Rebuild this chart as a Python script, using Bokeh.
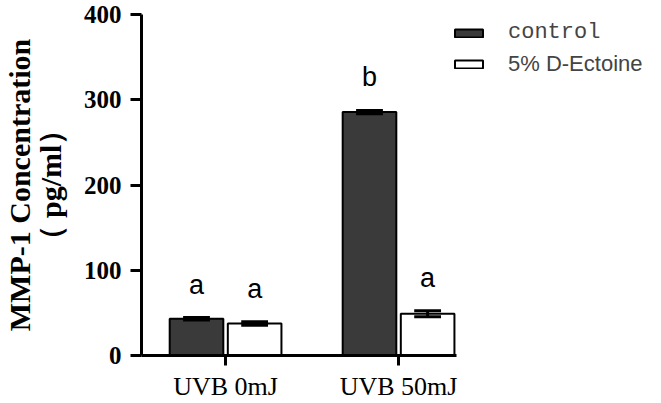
from bokeh.plotting import figure
from bokeh.models import Range1d, FixedTicker, Legend, LegendItem, ColumnDataSource
from bokeh.transform import dodge
from bokeh.core.properties import value
from bokeh.embed import file_html
from bokeh.resources import INLINE

groups = ["UVB 0mJ", "UVB 50mJ"]
series = ["control", "5% D-Ectoine"]
control_mean = [43.0, 285.5]
control_err = [1.5, 2.0]
ectoine_mean = [37.5, 49.0]
ectoine_err = [2.0, 3.5]
control_letters = ["a", "b"]
ectoine_letters = ["a", "a"]
y_ticks = [0, 100, 200, 300, 400]

xpos = [i + 1 for i in range(len(groups))]
OFF = 0.168
BW = 0.31
CAP = BW / 4

def src(means, errs, letters):
    return ColumnDataSource(dict(
        x=xpos, top=means,
        lo=[m - e for m, e in zip(means, errs)],
        hi=[m + e for m, e in zip(means, errs)],
        letter=letters,
    ))

sc = src(control_mean, control_err, control_letters)
se = src(ectoine_mean, ectoine_err, ectoine_letters)

p = figure(width=661, height=403, output_backend="svg", toolbar_location=None,
           x_range=Range1d(0.514, 3.52), y_range=Range1d(0, 400),
           min_border_left=141, min_border_right=0, min_border_top=14,
           min_border_bottom=48)
p.outline_line_color = None
p.grid.visible = False
p.background_fill_color = "white"
p.border_fill_color = "white"

rc = p.vbar(x=dodge("x", -OFF), top="top", width=BW, source=sc,
            fill_color="#3a3a3a", line_color="black", line_width=2)
re_ = p.vbar(x=dodge("x", OFF), top="top", width=BW, source=se,
             fill_color="white", line_color="black", line_width=2)

for s, o in ((sc, -OFF), (se, OFF)):
    p.segment(x0=dodge("x", o), x1=dodge("x", o), y0="lo", y1="hi", source=s,
              line_color="black", line_width=3)
    for yk in ("lo", "hi"):
        p.segment(x0=dodge("x", o - CAP), x1=dodge("x", o + CAP), y0=yk, y1=yk,
                  source=s, line_color="black", line_width=3)
    p.text(x=dodge("x", o), y="hi", text="letter", source=s,
           text_align="center", text_baseline="alphabetic", y_offset=-33,
           text_font=value("Liberation Sans"), text_font_size="27px",
           text_color="black")

# x axis
xa = p.xaxis[0]
xa.ticker = FixedTicker(ticks=xpos)
xa.major_label_overrides = {x: g for x, g in zip(xpos, groups)}
xa.bounds = (0.514, 2.335)
xa.axis_line_width = 3
xa.major_tick_line_width = 3
xa.major_tick_out = 10
xa.major_tick_in = 0
xa.minor_tick_line_color = None
xa.major_label_text_font = "Liberation Serif"
xa.major_label_text_font_size = "26px"
xa.major_label_standoff = 6
xa.major_label_text_color = "black"

# y axis
ya = p.yaxis[0]
ya.ticker = FixedTicker(ticks=y_ticks)
ya.axis_line_width = 3
ya.major_tick_line_width = 3
ya.major_tick_out = 11
ya.major_tick_in = 0
ya.minor_tick_line_color = None
ya.major_label_text_font = "Liberation Serif"
ya.major_label_text_font_style = "bold"
ya.major_label_text_font_size = "25px"
ya.major_label_standoff = 9
ya.major_label_text_color = "black"
ya.axis_label = "MMP-1 Concentration\n（ pg/ml）"
ya.axis_label_text_font = "Liberation Serif"
ya.axis_label_text_font_style = "bold"
ya.axis_label_text_font_size = "30px"
ya.axis_label_text_line_height = 0.93
ya.axis_label_standoff = 14
ya.axis_label_text_color = "black"

leg1 = Legend(items=[LegendItem(label=series[0], renderers=[rc])],
              location=(310, 310), orientation="vertical",
              glyph_width=35, glyph_height=10, label_standoff=22,
              label_text_font="Liberation Mono", label_text_font_size="22px",
              padding=0, margin=0, spacing=0,
              border_line_color=None, background_fill_alpha=0)
leg2 = Legend(items=[LegendItem(label=series[1], renderers=[re_])],
              location=(310, 278), orientation="vertical",
              glyph_width=35, glyph_height=10, label_standoff=22,
              label_text_font="Liberation Sans", label_text_font_size="22px",
              padding=0, margin=0, spacing=0,
              border_line_color=None, background_fill_alpha=0)
p.add_layout(leg1)
p.add_layout(leg2)

open("out.html", "w").write(file_html(p, INLINE))
